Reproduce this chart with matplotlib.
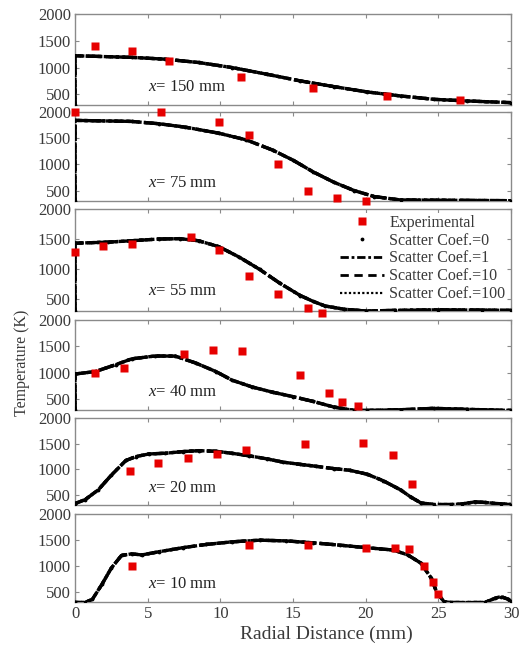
import matplotlib
matplotlib.use("Agg")
import matplotlib.pyplot as plt
from matplotlib.lines import Line2D

plt.rcParams["font.family"] = ["Liberation Serif", "DejaVu Serif"]
plt.rcParams["mathtext.fontset"] = "custom"
plt.rcParams["mathtext.rm"] = "Liberation Serif"
plt.rcParams["mathtext.it"] = "Liberation Serif:italic"

# ---- data (radial distance mm, temperature K) ----
LABELS = ["150", "75", "55", "40", "20", "10"]

R_150 = [0, 0, 3.9, 6.2, 8.5, 10.8, 13.2, 15.5, 17.8, 20.1, 22.4, 24.7, 27, 30]
T_150 = [300, 1220, 1190, 1156, 1094, 1000, 875, 750, 644, 544, 469, 406, 375, 344]
EXP_R_150 = [1.4, 3.9, 6.5, 11.4, 16.4, 21.5, 26.5]
EXP_T_150 = [1400, 1300, 1125, 830, 625, 470, 390]

R_75 = [0, 0, 3.9, 5.8, 7.6, 9.9, 11.8, 13.6, 15, 16.4, 17.8, 19.2, 20.6, 22.4, 30]
T_75 = [300, 1840, 1820, 1775, 1710, 1595, 1466, 1272, 1080, 854, 660, 500, 384, 320, 306]
EXP_R_75 = [0, 5.9, 9.9, 12, 14, 16, 18, 20]
EXP_T_75 = [1995, 1995, 1810, 1560, 1000, 500, 350, 305]

R_55 = [0, 0, 2.3, 3.9, 5.8, 7.2, 8.5, 9.9, 11.3, 12.7, 14.1, 15.5, 16.4, 17.2,
        18.5, 20, 22, 25, 28, 30]
T_55 = [300, 1430, 1448, 1471, 1500, 1506, 1471, 1372, 1198, 994, 762, 558, 459, 384,
        330, 300, 310, 320, 315, 310]
EXP_R_55 = [0, 1.9, 3.9, 8, 9.9, 12, 14, 16, 17]
EXP_T_55 = [1290, 1380, 1420, 1530, 1320, 880, 580, 350, 270]

R_40 = [0, 0, 1.4, 2.8, 3.9, 5.5, 6.9, 8.3, 9.7, 10.8, 12.2, 13.6, 15, 16.4, 17.8,
        19.2, 20.1, 22.4, 24.7, 27, 30]
T_40 = [300, 980, 1026, 1156, 1266, 1320, 1318, 1188, 1026, 864, 734, 636, 552, 461, 357,
        292, 292, 305, 331, 312, 292]
EXP_R_40 = [1.4, 3.4, 7.5, 9.5, 11.5, 15.5, 17.5, 18.4, 19.5]
EXP_T_40 = [1000, 1090, 1360, 1440, 1420, 970, 620, 460, 380]

R_20 = [0, 0.7, 1.6, 2.5, 3.5, 4.2, 5.1, 6.2, 7.4, 8.5, 9.7, 10.8, 12, 13.2, 14.3,
        15.5, 16.6, 17.8, 18.9, 20.1, 21.2, 22.4, 23.1, 23.8, 24.7, 25.9, 26.6, 27.5,
        28.2, 29.3, 30]
T_20 = [328, 405, 596, 883, 1170, 1247, 1298, 1311, 1343, 1362, 1349, 1311, 1260, 1202,
        1138, 1094, 1056, 1011, 979, 902, 775, 596, 456, 341, 309, 309, 320, 360, 350,
        322, 309]
EXP_R_20 = [3.75, 5.7, 7.75, 9.8, 11.8, 15.8, 19.85, 21.85, 23.2]
EXP_T_20 = [960, 1120, 1215, 1300, 1380, 1490, 1510, 1285, 705]

R_10 = [0, 0.7, 1.2, 1.85, 2.5, 3.2, 3.9, 4.6, 5.8, 7.4, 9, 10.8, 12.7, 14.5, 16.4,
        18.2, 20.1, 21.9, 22.9, 23.8, 24.5, 24.9, 25.4, 25.9, 28.2, 28.9, 29.3, 29.8, 30]
T_10 = [291, 290, 354, 639, 956, 1200, 1230, 1209, 1272, 1348, 1411, 1462, 1494, 1481,
        1443, 1399, 1348, 1304, 1209, 1051, 766, 481, 304, 290, 290, 373, 405, 354, 310]
EXP_R_10 = [3.9, 12, 16, 20, 22, 23, 24, 24.6, 25]
EXP_T_10 = [990, 1400, 1400, 1335, 1348, 1323, 990, 690, 450]

CURVES_R = [R_150, R_75, R_55, R_40, R_20, R_10]
CURVES_T = [T_150, T_75, T_55, T_40, T_20, T_10]
EXP_R = [EXP_R_150, EXP_R_75, EXP_R_55, EXP_R_40, EXP_R_20, EXP_R_10]
EXP_T = [EXP_T_150, EXP_T_75, EXP_T_55, EXP_T_40, EXP_T_20, EXP_T_10]

SCATTER_COEFS = ["0", "1", "10", "100"]

# ---- layout (pixel positions of the panels in the 524x652 reference) ----
W, H = 524, 652
LEFT, RIGHT = 75, 511
TOPS = [14, 112, 209, 320, 418, 514]
BOTTOMS = [105, 201, 311, 410, 505, 602]

TICK_COL = "#3a3a3a"
SPINE_COL = "#8a8a8a"
RED = "#e60000"
FS = 12

# line styles of the four scatter-coefficient runs (offset so they overlap into a thick band)
LS_1 = (0, (5, 1.5, 1, 1.5))
LS_10 = (2, (4, 1.2))
LS_100 = (0, (1, 0.8))

fig = plt.figure(figsize=(W / 100, H / 100), dpi=100)

for i in range(6):
    ax = fig.add_axes([LEFT / W, 1 - BOTTOMS[i] / H, (RIGHT - LEFT) / W,
                       (BOTTOMS[i] - TOPS[i]) / H])
    r, t = CURVES_R[i], CURVES_T[i]
    ax.plot(r, t, ls="none", marker=".", ms=3.5, color="black", zorder=3)
    ax.plot(r, t, ls=LS_1, lw=2.4, color="black", zorder=3)
    ax.plot(r, t, ls=LS_10, lw=2.4, color="black", zorder=3)
    ax.plot(r, t, ls=LS_100, lw=2.4, color="black", zorder=3)
    ax.plot(EXP_R[i], EXP_T[i], "s", ms=5.5, color=RED, mec="none",
            clip_on=False, zorder=5)

    ax.set_xlim(0, 30)
    ax.set_ylim(300, 2000)
    ax.set_xticks([0, 5, 10, 15, 20, 25, 30])
    ax.set_yticks([500, 1000, 1500, 2000])
    ax.tick_params(direction="in", top=True, right=True, length=3, width=0.8,
                   colors=SPINE_COL, labelcolor=TICK_COL, labelsize=FS, pad=3)
    for s in ax.spines.values():
        s.set_color(SPINE_COL)
        s.set_linewidth(1.0)
    if i < 5:
        ax.tick_params(labelbottom=False)
    ax.text(0.167, 0.2, r"$x$= " + LABELS[i] + " mm", transform=ax.transAxes,
            fontsize=FS, color="#222222", va="center", ha="left", zorder=6)

    if i == 2:
        handles = [
            Line2D([], [], ls="none", marker="s", ms=5.5, color=RED, mec="none"),
            Line2D([], [], ls="none", marker=".", ms=3.5, color="black"),
            Line2D([], [], ls=(0, (3, 1, 1, 1)), lw=2.0, color="black"),
            Line2D([], [], ls=(0, (3, 2)), lw=2.0, color="black"),
            Line2D([], [], ls=(0, (1, 1)), lw=1.6, color="black"),
        ]
        labels = ["Experimental"] + [f"Scatter Coef.={c}" for c in SCATTER_COEFS]
        leg = ax.legend(handles, labels, loc="upper right", bbox_to_anchor=(1.0, 1.0),
                        fontsize=11.5, frameon=True, facecolor="white", edgecolor="none",
                        framealpha=1.0, handlelength=2.8, handletextpad=0.3,
                        labelspacing=0.12, borderpad=0.1, borderaxespad=0.25)
        for txt in leg.get_texts():
            txt.set_color(TICK_COL)
        leg.set_zorder(4)

fig.text(326 / W, 1 - 634 / H, "Radial Distance (mm)", fontsize=14, color=TICK_COL,
         ha="center", va="center")
fig.text(0.042, 0.443, "Temperature (K)", rotation=90, fontsize=11.5,
         color=TICK_COL, ha="center", va="center")

fig.savefig("out.png", dpi=100)
